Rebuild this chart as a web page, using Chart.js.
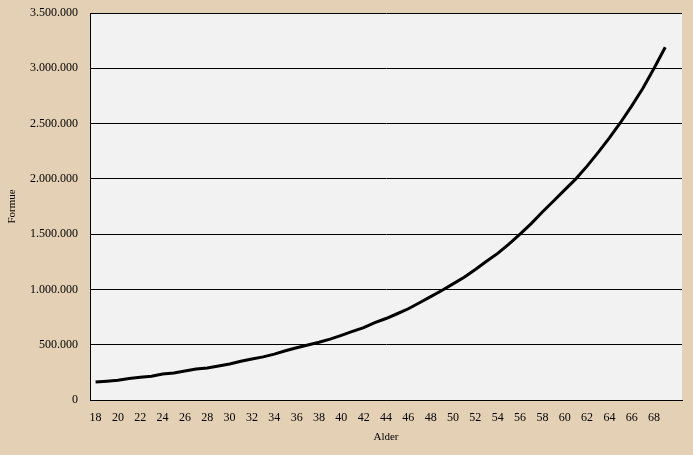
<!DOCTYPE html>
<html>
<head>
<meta charset="utf-8">
<script src="https://cdn.jsdelivr.net/npm/chart.js@4/dist/chart.umd.min.js"></script>
<style>
    html, body { margin: 0; padding: 0; background: #E4D1B5; }
    #wrap { width: 693px; height: 455px; }
</style>
</head>
<body>
<div id="wrap"><canvas id="formue"></canvas></div>
<script>
// ages 18..69, plus one empty slot at the end as in the original sheet
const ages = [18, 19, 20, 21, 22, 23, 24, 25, 26, 27, 28, 29, 30, 31, 32, 33, 34, 35,
    36, 37, 38, 39, 40, 41, 42, 43, 44, 45, 46, 47, 48, 49, 50, 51, 52, 53,
    54, 55, 56, 57, 58, 59, 60, 61, 62, 63, 64, 65, 66, 67, 68, 69, ''];

const formue = [163000, 170000, 178000, 195000, 205000, 215000, 235000, 245000, 262000,
    280000, 290000, 308000, 325000, 350000, 370000, 390000, 415000, 445000,
    472000, 497000, 522000, 551000, 585000, 620000, 654000, 700000, 737000,
    780000, 825000, 880000, 935000, 990000, 1050000, 1110000, 1180000, 1255000,
    1326000, 1410000, 1500000, 1595000, 1700000, 1800000, 1900000, 2000000,
    2115000, 2240000, 2370000, 2510000, 2660000, 2820000, 3000000, 3190000, null];

const y_max = 3500000;
const y_step = 500000;

function format_dk(value) {
    return value.toString().replace(/\B(?=(\d{3})+(?!\d))/g, '.');
}

// grey plot area behind the line
const plot_bg = {
    id: 'plot_bg',
    beforeDraw(chart) {
        const a = chart.chartArea;
        const ctx = chart.ctx;
        ctx.save();
        ctx.fillStyle = '#F2F2F2';
        ctx.fillRect(a.left, a.top, a.right - a.left, a.bottom - a.top);
        ctx.restore();
    }
};

document.addEventListener("DOMContentLoaded", function() {
    const ctx = document.getElementById('formue');
    const serif = 'Liberation Serif';

    new Chart(ctx, {
        type: 'line',
        plugins: [plot_bg],
        data: {
            labels: ages,
            datasets: [{
                label: 'Formue',
                data: formue,
                borderColor: '#000000',
                borderWidth: 3,
                pointRadius: 0,
                tension: 0,
                spanGaps: false
            }]
        },
        options: {
            responsive: true,
            maintainAspectRatio: false,
            animation: false,
            layout: {
                padding: { left: 0, right: 11, top: 13, bottom: 0 }
            },
            plugins: {
                legend: { display: false },
                tooltip: { enabled: false }
            },
            scales: {
                x: {
                    offset: true,
                    grid: { display: false, drawTicks: false },
                    border: { display: true, color: '#000000', width: 1 },
                    ticks: {
                        autoSkip: false,
                        maxRotation: 0,
                        padding: 11,
                        color: '#000000',
                        font: { family: serif, size: 12 },
                        callback: function(value, index) {
                            return index % 2 === 0 ? ages[index] : '';
                        }
                    },
                    title: {
                        display: true,
                        text: 'Alder',
                        color: '#000000',
                        font: { family: serif, size: 11 },
                        padding: { top: 4, bottom: 11 }
                    },
                    afterFit: function(scale) {
                        scale.height = 55;
                        scale.paddingLeft = 0;
                        scale.paddingRight = 0;
                    }
                },
                y: {
                    min: 0,
                    max: y_max,
                    grid: { color: '#000000', lineWidth: 1, drawTicks: false },
                    border: { display: true, color: '#000000', width: 1 },
                    ticks: {
                        stepSize: y_step,
                        padding: 12,
                        color: '#000000',
                        font: { family: serif, size: 12 },
                        callback: function(value) { return format_dk(value); }
                    },
                    title: {
                        display: true,
                        text: 'Formue',
                        color: '#000000',
                        font: { family: serif, size: 11 },
                        padding: { top: 6, bottom: 0 }
                    },
                    afterFit: function(scale) {
                        scale.width = 90;
                        scale.paddingTop = 0;
                        scale.paddingBottom = 0;
                    }
                }
            }
        }
    });
});
</script>
</body>
</html>
